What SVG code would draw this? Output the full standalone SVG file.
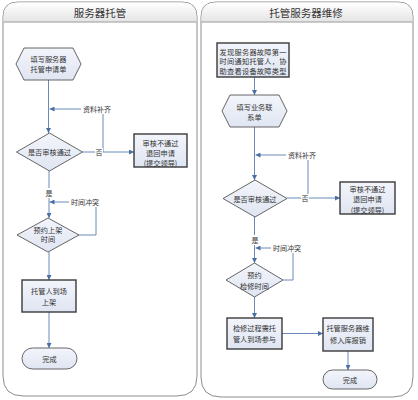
<svg xmlns="http://www.w3.org/2000/svg" width="418" height="400" viewBox="0 0 418 400">
<defs>
<linearGradient id="hdr" x1="0" y1="0" x2="0" y2="1"><stop offset="0" stop-color="#ffffff"/><stop offset="1" stop-color="#e4e4e4"/></linearGradient>
<linearGradient id="nf" x1="0" y1="0" x2="0" y2="1"><stop offset="0" stop-color="#f3f5fb"/><stop offset="1" stop-color="#dfe5f2"/></linearGradient>
<marker id="ar" viewBox="0 0 6 6" refX="6" refY="3" markerWidth="5" markerHeight="5" orient="auto" markerUnits="userSpaceOnUse"><path d="M0,0 L6,3 L0,6 Z" fill="#4a6fa5"/></marker>
<style>
.panel{fill:#fff;stroke:#8c8c8c;stroke-width:1}
.hdrline{stroke:#9a9a9a;stroke-width:1}
.title{font-family:"Noto Sans CJK SC",sans-serif;font-size:10.5px;fill:#333;text-anchor:middle;dominant-baseline:central}
.n{fill:url(#nf);stroke:#555;stroke-width:0.9}
.b{fill:url(#nf);stroke:#3a3a3a;stroke-width:1.4}
.t{font-family:"Noto Sans CJK SC",sans-serif;font-size:7.2px;fill:#333;text-anchor:middle;dominant-baseline:central}
.c{fill:none;stroke:#5a7db0;stroke-width:0.9}
.lbl{font-family:"Noto Sans CJK SC",sans-serif;font-size:7px;fill:#333;text-anchor:middle;dominant-baseline:central}
.bg{fill:#fff}
</style>
</defs>

<g id="panel-left">
<path class="panel" d="M18,2 H182 Q197,2 197,17 V376 Q197,396 177,396 H23 Q3,396 3,376 V17 Q3,2 18,2 Z"/>
<path d="M18,2.5 H182 Q196.5,2.5 196.5,17 V22 H3.5 V17 Q3.5,2.5 18,2.5 Z" fill="url(#hdr)"/>
<line class="hdrline" x1="3.5" y1="22" x2="196.5" y2="22"/>
<text class="title" x="100" y="12">服务器托管</text>
</g>
<g id="panel-right">
<path class="panel" d="M216,2 H398 Q413,2 413,17 V377 Q413,397 393,397 H221 Q201,397 201,377 V17 Q201,2 216,2 Z"/>
<path d="M216,2.5 H398 Q412.5,2.5 412.5,17 V22 H201.5 V17 Q201.5,2.5 216,2.5 Z" fill="url(#hdr)"/>
<line class="hdrline" x1="201.5" y1="22" x2="412.5" y2="22"/>
<text class="title" x="306" y="12">托管服务器维修</text>
</g>

<g id="connectors">
<path class="c" d="M48.5,80 V133" marker-end="url(#ar)"/>
<path class="c" d="M103,152 V109 H49.5" marker-end="url(#ar)"/>
<path class="c" d="M82.5,152 H134" marker-end="url(#ar)"/>
<path class="c" d="M49,171 V218" marker-end="url(#ar)"/>
<path class="c" d="M79,235 H96 V202 H49.5" marker-end="url(#ar)"/>
<path class="c" d="M49,252 V280" marker-end="url(#ar)"/>
<path class="c" d="M49,312 V348" marker-end="url(#ar)"/>

<path class="c" d="M254.5,77 V95" marker-end="url(#ar)"/>
<path class="c" d="M254.5,127 V180" marker-end="url(#ar)"/>
<path class="c" d="M308,198 V155 H255.5" marker-end="url(#ar)"/>
<path class="c" d="M287,198 H340" marker-end="url(#ar)"/>
<path class="c" d="M254.5,217 V263" marker-end="url(#ar)"/>
<path class="c" d="M283,280 H293 V248 H255.5" marker-end="url(#ar)"/>
<path class="c" d="M254.5,297 V318" marker-end="url(#ar)"/>
<path class="c" d="M282,333.5 H323" marker-end="url(#ar)"/>
<path class="c" d="M348,351 V370" marker-end="url(#ar)"/>

<rect class="bg" x="81" y="104" width="32" height="10"/>
<text class="lbl" x="97" y="109">资料补齐</text>
<rect class="bg" x="95" y="148" width="8" height="8"/>
<text class="lbl" x="99" y="152">否</text>
<rect class="bg" x="45" y="188" width="8" height="10"/>
<text class="lbl" x="49" y="193">是</text>
<rect class="bg" x="69" y="197" width="32" height="10"/>
<text class="lbl" x="85" y="202">时间冲突</text>

<rect class="bg" x="286" y="150" width="32" height="10"/>
<text class="lbl" x="302" y="155">资料补齐</text>
<rect class="bg" x="301" y="194" width="8" height="8"/>
<text class="lbl" x="305" y="198">否</text>
<rect class="bg" x="251" y="235" width="8" height="10"/>
<text class="lbl" x="255" y="240">是</text>
<rect class="bg" x="271" y="243" width="32" height="10"/>
<text class="lbl" x="287" y="248">时间冲突</text>
</g>

<g id="n-apply">
<polygon class="n" points="16,64 24,48 73,48 81,64 73,80 24,80"/>
<text class="t" x="48.5" y="58.5">填写服务器</text>
<text class="t" x="48.5" y="68.5">托管申请单</text>
</g>
<g id="n-review1">
<polygon class="n" points="16.5,152 49.5,133 82.5,152 49.5,171"/>
<text class="t" x="49.5" y="152">是否审核通过</text>
</g>
<g id="n-reject1">
<rect class="b" x="134" y="134" width="53" height="33"/>
<text class="t" x="160.5" y="143">审核不通过</text>
<text class="t" x="160.5" y="153">退回申请</text>
<text class="t" x="160.5" y="163">(提交领导)</text>
</g>
<g id="n-schedule1">
<polygon class="n" points="17,235 48,218 79,235 48,252"/>
<text class="t" x="48" y="229.5">预约上架</text>
<text class="t" x="48" y="239">时间</text>
</g>
<g id="n-onsite1">
<rect class="b" x="22" y="280" width="54" height="32"/>
<text class="t" x="49" y="291">托管人到场</text>
<text class="t" x="49" y="302">上架</text>
</g>
<g id="n-done1">
<rect class="n" x="22" y="348" width="55" height="21" rx="10.5"/>
<text class="t" x="49.5" y="358.5">完成</text>
</g>

<g id="n-notify">
<rect class="b" x="217" y="43" width="72" height="34"/>
<text class="t" x="253" y="51.5" textLength="67" lengthAdjust="spacing">发现服务器故障第一</text>
<text class="t" x="253" y="61" textLength="67" lengthAdjust="spacing">时间通知托管人，协</text>
<text class="t" x="253" y="70.5" textLength="67" lengthAdjust="spacing">助查看设备故障类型</text>
</g>
<g id="n-form">
<polygon class="n" points="222,111 230,95 279,95 287,111 279,127 230,127"/>
<text class="t" x="254.5" y="107">填写业务联</text>
<text class="t" x="254.5" y="117">系单</text>
</g>
<g id="n-review2">
<polygon class="n" points="223,198.5 255,180 287,198.5 255,217"/>
<text class="t" x="255" y="198.5">是否审核通过</text>
</g>
<g id="n-reject2">
<rect class="b" x="340" y="182" width="55" height="32"/>
<text class="t" x="367.5" y="188.5">审核不通过</text>
<text class="t" x="367.5" y="199">退回申请</text>
<text class="t" x="367.5" y="209.5">(提交领导)</text>
</g>
<g id="n-schedule2">
<polygon class="n" points="226,280 254.5,263 283,280 254.5,297"/>
<text class="t" x="254.5" y="275">预约</text>
<text class="t" x="254.5" y="285.5">检修时间</text>
</g>
<g id="n-onsite2">
<rect class="b" x="227" y="318" width="55" height="31"/>
<text class="t" x="254.5" y="327.5">检修过程需托</text>
<text class="t" x="254.5" y="339">管人到场参与</text>
</g>
<g id="n-scrap">
<rect class="b" x="323" y="318" width="50" height="33"/>
<text class="t" x="348" y="327.5">托管服务器维</text>
<text class="t" x="348" y="339.5">修入库报销</text>
</g>
<g id="n-done2">
<rect class="n" x="323" y="370" width="54" height="19" rx="9.5"/>
<text class="t" x="350" y="379.5">完成</text>
</g>
</svg>
